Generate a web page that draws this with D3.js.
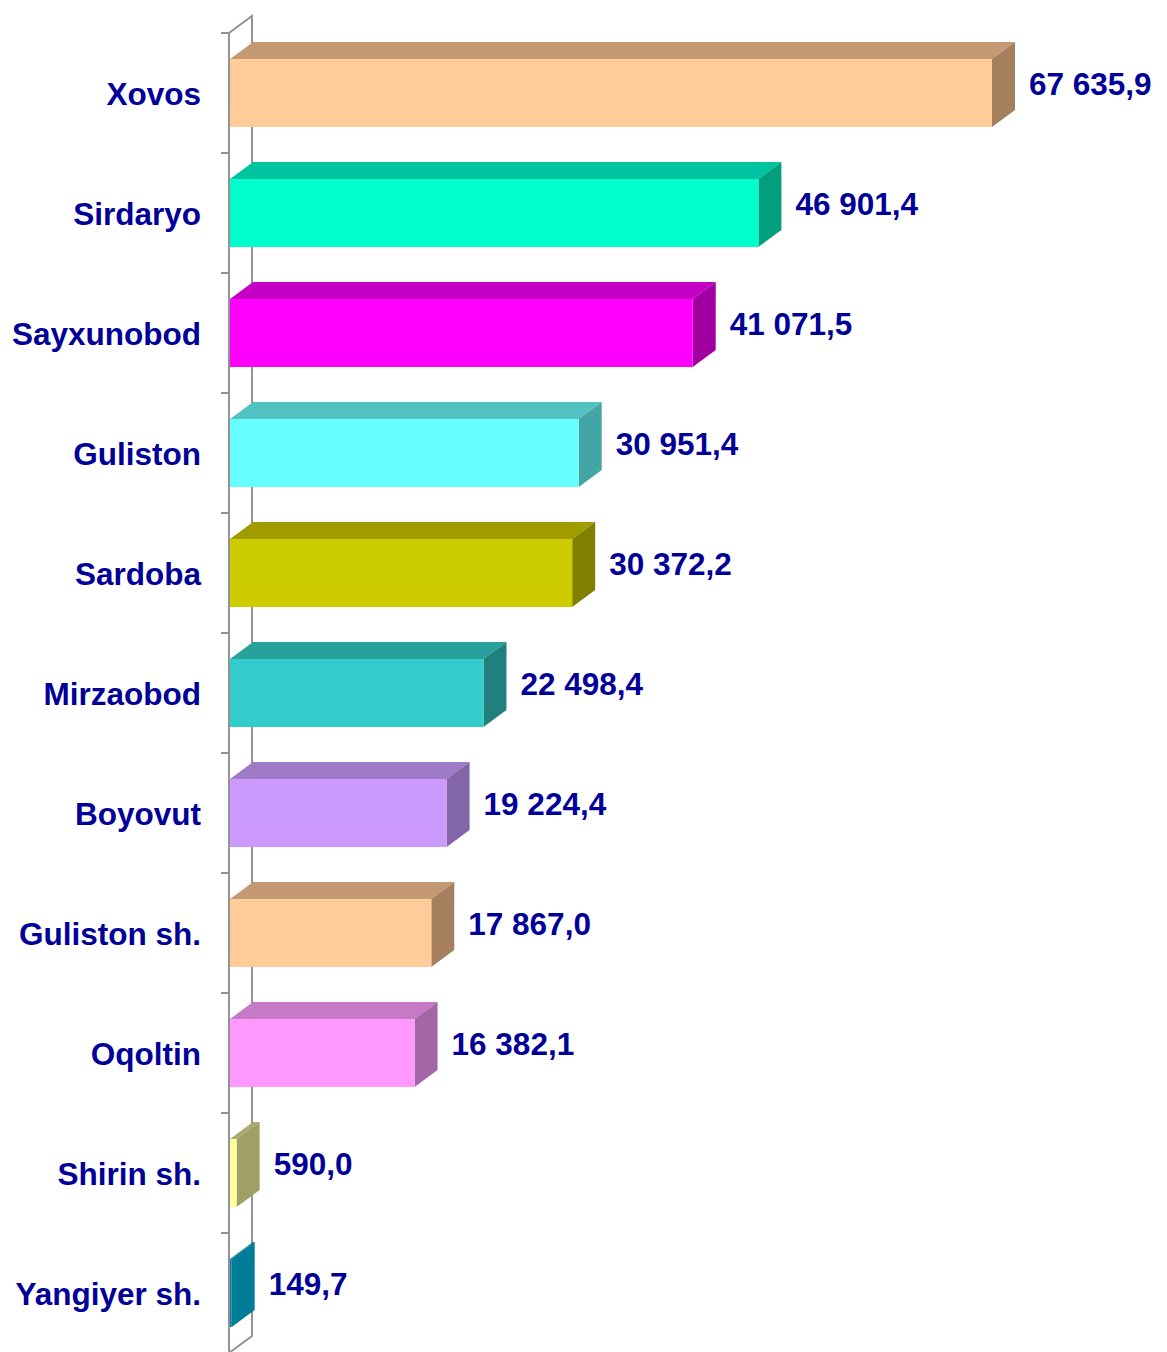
<!DOCTYPE html>
<html><head><meta charset="utf-8">
<script src="https://cdn.jsdelivr.net/npm/d3@7"></script>
<style>body{margin:0;background:#fff}svg{display:block}</style>
</head><body>
<script>
const categories = ["Xovos","Sirdaryo","Sayxunobod","Guliston","Sardoba","Mirzaobod","Boyovut","Guliston sh.","Oqoltin","Shirin sh.","Yangiyer sh."];
const values = [67635.9,46901.4,41071.5,30951.4,30372.2,22498.4,19224.4,17867.0,16382.1,590.0,149.7];
const labels = ["67 635,9","46 901,4","41 071,5","30 951,4","30 372,2","22 498,4","19 224,4","17 867,0","16 382,1","590,0","149,7"];
const frontColors = ["#FFCC99","#00FFCC","#FF00FF","#66FFFF","#CCCC00","#33CCCC","#CC99FF","#FFCC99","#FF99FF","#FFFF99","#00809C"];
const topColors   = ["#C49A74","#00C49F","#C400C4","#52C2C2","#A09C00","#28A09C","#9F7AC7","#C49A74","#C47AC4","#A8A870","#007C98"];
const sideColors  = ["#A6805E","#00A07F","#A000A0","#44A5A5","#808000","#20807E","#8366A8","#A6805E","#A366A6","#A0A064","#007C98"];

const W = 1167, H = 1352;
const DX = 23, DY = -17;
const svg = d3.select("body").append("svg").attr("width", W).attr("height", H);

const x = d3.scaleLinear().domain([0, 70000]).range([230, 230 + 762 * 70000 / 67635.9]);
const y = d3.scaleBand().domain(categories).range([33, 1353]).paddingInner(0).paddingOuter(0);
const barH = 68;

// axis wall
const ax = svg.append("g").attr("stroke", "#939393").attr("stroke-width", 2).attr("fill", "none");
ax.append("path").attr("d", `M${x(0)-1},${y.range()[1]}V${y.range()[0]}L${x(0)-1+DX},${y.range()[0]+DY}V${y.range()[1]+DY}L${x(0)-1},${y.range()[1]}`);
const ticks = categories.map(c => y(c)).concat([y.range()[1]]);
ax.selectAll("line.t").data(ticks).join("line").attr("class","t")
  .attr("x1", x(0)-9).attr("x2", x(0)-1).attr("y1", d => d).attr("y2", d => d);

// bars
const g = svg.append("g");
categories.forEach((c, i) => {
  const x0 = x(0), x1 = x(values[i]);
  const yc = y(c) + y.bandwidth() / 2;
  const y0 = yc - barH / 2, y1 = yc + barH / 2;
  g.append("path").attr("fill", topColors[i])
    .attr("d", `M${x0},${y0}L${x0+DX},${y0+DY}L${x1+DX},${y0+DY}L${x1},${y0}Z`);
  g.append("path").attr("fill", sideColors[i])
    .attr("d", `M${x1},${y0}L${x1+DX},${y0+DY}L${x1+DX},${y1+DY}L${x1},${y1}Z`);
  g.append("rect").attr("fill", frontColors[i])
    .attr("x", x0).attr("y", y0).attr("width", Math.max(0, x1 - x0)).attr("height", barH);
});

// category labels
svg.append("g").selectAll("text").data(categories).join("text")
  .attr("x", 201).attr("y", d => y(d) + y.bandwidth()/2 + 1)
  .attr("text-anchor", "end").attr("dominant-baseline", "central")
  .attr("font-family", "Liberation Sans, Arial, sans-serif").attr("font-weight", "bold")
  .attr("font-size", 31.5).attr("fill", "#000099").text(d => d);

// value labels
svg.append("g").selectAll("text").data(categories).join("text")
  .attr("x", (d, i) => x(values[i]) + DX + 14)
  .attr("y", d => y(d) + y.bandwidth()/2 - 9)
  .attr("dominant-baseline", "central")
  .attr("font-family", "Liberation Sans, Arial, sans-serif").attr("font-weight", "bold")
  .attr("font-size", 31.5).attr("fill", "#000099").text((d, i) => labels[i]);
</script>
</body></html>
